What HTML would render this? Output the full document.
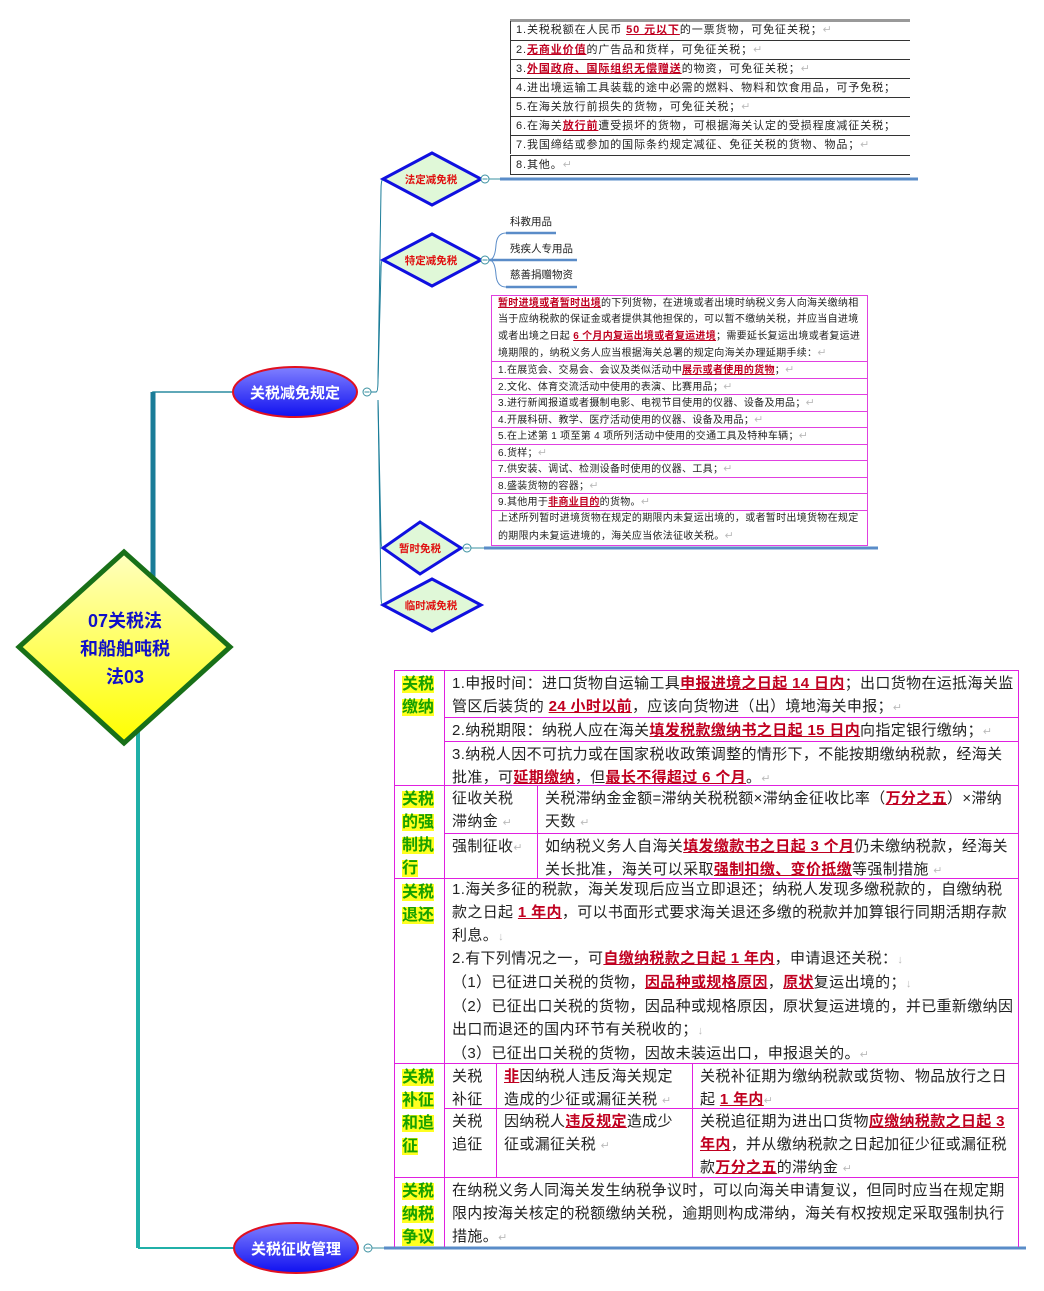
<!DOCTYPE html>
<html><head><meta charset="utf-8">
<style>
*{margin:0;padding:0;box-sizing:border-box}
body{width:1044px;height:1291px;background:#fff;position:relative;overflow:hidden;font-family:"Liberation Sans","Noto Sans CJK SC","WenQuanYi Zen Hei",sans-serif;color:#222}
.a{position:absolute}
.r{color:#c00020;font-weight:bold;text-decoration:underline}
.t1{position:absolute;left:510px;width:400px;height:19px;border-top:1px solid #333;font-size:11px;letter-spacing:0.9px;line-height:18px;padding-left:5px;white-space:nowrap;overflow:hidden;border-left:1px solid #333}
.t2{position:absolute;left:491px;width:377px;border:1px solid #e040e0;border-top:none;font-size:10px;letter-spacing:0.3px;line-height:16.5px;padding-left:6px;white-space:nowrap;overflow:hidden}
.c{position:absolute;border:1px solid #e020e0;font-size:15px;letter-spacing:0.35px;line-height:23px;padding:1px 4px 0 7px;overflow:hidden}
.lb{position:absolute;left:394px;width:51px;border:1px solid #e020e0;padding:2px 0 0 7px;font-size:16px;line-height:23px;font-weight:bold;color:#18a000}
.lb span{background:#ffff20}
.g{color:#bbb;font-size:11px}
</style></head><body>
<svg class="a" style="left:0;top:0" width="1044" height="1291">
<defs>
<linearGradient id="yg" x1="0" y1="0" x2="0" y2="1"><stop offset="0" stop-color="#ffffc0"/><stop offset="1" stop-color="#ffff00"/></linearGradient>
<linearGradient id="bg" x1="0" y1="0" x2="0" y2="1"><stop offset="0" stop-color="#8080ff"/><stop offset="1" stop-color="#1010f0"/></linearGradient>
</defs>
<path d="M153 575 V392 H232" fill="none" stroke="#2a8ca0" stroke-width="1.5"/>
<line x1="153" y1="392" x2="153" y2="580" stroke="#1a7c98" stroke-width="5"/>
<line x1="138" y1="720" x2="138" y2="1248" stroke="#20b0a8" stroke-width="4"/>
<line x1="138" y1="1248" x2="234" y2="1248" stroke="#20b0a8" stroke-width="2"/>
<polygon points="124,552 230,647 124,743 19,647" fill="url(#yg)" stroke="#187018" stroke-width="5"/>
<text x="125" y="627" text-anchor="middle" font-size="18" font-weight="bold" fill="#1010c8" font-family="Liberation Sans,Noto Sans CJK SC,sans-serif">07关税法</text>
<text x="125" y="655" text-anchor="middle" font-size="18" font-weight="bold" fill="#1010c8" font-family="Liberation Sans,Noto Sans CJK SC,sans-serif">和船舶吨税</text>
<text x="125" y="683" text-anchor="middle" font-size="18" font-weight="bold" fill="#1010c8" font-family="Liberation Sans,Noto Sans CJK SC,sans-serif">法03</text>
<ellipse cx="295" cy="392" rx="62" ry="25" fill="url(#bg)" stroke="#e01020" stroke-width="2"/>
<text x="295" y="398" text-anchor="middle" font-size="15" font-weight="bold" fill="#fff" font-family="Liberation Sans,Noto Sans CJK SC,sans-serif">关税减免规定</text>
<ellipse cx="296" cy="1248" rx="62" ry="25" fill="url(#bg)" stroke="#e01020" stroke-width="2"/>
<text x="296" y="1254" text-anchor="middle" font-size="15" font-weight="bold" fill="#fff" font-family="Liberation Sans,Noto Sans CJK SC,sans-serif">关税征收管理</text>
<circle cx="367" cy="392" r="4" fill="#fff" stroke="#3a90a0"/><line x1="364.5" y1="392" x2="369.5" y2="392" stroke="#3a90a0"/>
<circle cx="368" cy="1248" r="4" fill="#fff" stroke="#3a90a0"/><line x1="365.5" y1="1248" x2="370.5" y2="1248" stroke="#3a90a0"/>
<line x1="372" y1="1248" x2="384" y2="1248" stroke="#3a90a0"/>
<line x1="384" y1="1248" x2="1026" y2="1248" stroke="#5a8cc8" stroke-width="3"/>
<path d="M371 392 H376 Q378 392 378 380 L381 190 Q381 180 383 179" fill="none" stroke="#1a7c98" stroke-width="1"/>
<path d="M378 380 L381 270 Q381 260 383 260" fill="none" stroke="#1a7c98" stroke-width="1"/>
<path d="M378 400 L381 538 Q381 548 383 548" fill="none" stroke="#1a7c98" stroke-width="1"/>
<path d="M378 400 L381 595 Q381 605 383 605" fill="none" stroke="#1a7c98" stroke-width="1"/>
<g font-family="Liberation Sans,Noto Sans CJK SC,sans-serif" font-size="10.5" font-weight="bold" fill="#e01010" text-anchor="middle">
<polygon points="432,153 481,179 432,205 383,179" fill="#e0f8d8" stroke="#1010e0" stroke-width="3"/>
<text x="431" y="183">法定减免税</text>
<polygon points="432,234 481,260 432,286 383,260" fill="#e0f8d8" stroke="#1010e0" stroke-width="3"/>
<text x="431" y="264">特定减免税</text>
<polygon points="420,522 461,548 420,574 383,548" fill="#e0f8d8" stroke="#1010e0" stroke-width="3"/>
<text x="420" y="552">暂时免税</text>
<polygon points="432,579 481,605 432,631 383,605" fill="#e0f8d8" stroke="#1010e0" stroke-width="3"/>
<text x="431" y="609">临时减免税</text>
</g>
<circle cx="485" cy="179" r="4" fill="#fff" stroke="#3a90a0"/><line x1="482.5" y1="179" x2="487.5" y2="179" stroke="#3a90a0"/>
<line x1="489" y1="179" x2="500" y2="179" stroke="#3a90a0"/>
<line x1="500" y1="179" x2="918" y2="179" stroke="#5a8cc8" stroke-width="3"/>
<circle cx="485" cy="260" r="4" fill="#fff" stroke="#3a90a0"/><line x1="482.5" y1="260" x2="487.5" y2="260" stroke="#3a90a0"/>
<path d="M489 260 Q495 260 496 245 Q497 233 506 233 H556" fill="none" stroke="#5a8cc8" stroke-width="1"/>
<line x1="506" y1="233" x2="556" y2="233" stroke="#5a8cc8" stroke-width="2.5"/>
<line x1="489" y1="260" x2="577" y2="260" stroke="#5a8cc8" stroke-width="2.5"/>
<path d="M489 260 Q495 260 496 275 Q497 287 506 287" fill="none" stroke="#5a8cc8" stroke-width="1"/>
<line x1="506" y1="287" x2="577" y2="287" stroke="#5a8cc8" stroke-width="2.5"/>
<circle cx="467" cy="548" r="4" fill="#fff" stroke="#3a90a0"/><line x1="464.5" y1="548" x2="469.5" y2="548" stroke="#3a90a0"/>
<line x1="471" y1="548" x2="484" y2="548" stroke="#3a90a0"/>
<line x1="484" y1="548" x2="878" y2="548" stroke="#5a8cc8" stroke-width="3"/>
</svg>

<div class="a" style="left:510px;top:222px;font-size:10.5px;line-height:12px;transform:translateY(-6px)">科教用品</div>
<div class="a" style="left:510px;top:249px;font-size:10.5px;line-height:12px;transform:translateY(-6px)">残疾人专用品</div>
<div class="a" style="left:510px;top:275px;font-size:10.5px;line-height:12px;transform:translateY(-6px)">慈善捐赠物资</div>

<div class="a" style="left:510px;top:19px;width:400px;height:3px;background:#999"></div>
<div class="t1" style="top:21px;border-top:none">1.关税税额在人民币 <span class="r">50 元以下</span>的一票货物，可免征关税；<span class="g">↵</span></div>
<div class="t1" style="top:40px">2.<span class="r">无商业价值</span>的广告品和货样，可免征关税；<span class="g">↵</span></div>
<div class="t1" style="top:59px">3.<span class="r">外国政府、国际组织无偿赠送</span>的物资，可免征关税；<span class="g">↵</span></div>
<div class="t1" style="top:78px">4.进出境运输工具装载的途中必需的燃料、物料和饮食用品，可予免税；</div>
<div class="t1" style="top:97px">5.在海关放行前损失的货物，可免征关税；<span class="g">↵</span></div>
<div class="t1" style="top:116px">6.在海关<span class="r">放行前</span>遭受损坏的货物，可根据海关认定的受损程度减征关税；</div>
<div class="t1" style="top:135px">7.我国缔结或参加的国际条约规定减征、免征关税的货物、物品；<span class="g">↵</span></div>
<div class="t1" style="top:155px;height:20px;border-bottom:1px solid #333">8.其他。<span class="g">↵</span></div>

<div class="t2" style="top:295px;height:67px;border-top:1px solid #e040e0;white-space:normal;line-height:16.3px;padding-right:3px">
<span class="r">暂时进境或者暂时出境</span>的下列货物，在进境或者出境时纳税义务人向海关缴纳相当于应纳税款的保证金或者提供其他担保的，可以暂不缴纳关税，并应当自进境或者出境之日起 <span class="r">6 个月内复运出境或者复运进境</span>；需要延长复运出境或者复运进境期限的，纳税义务人应当根据海关总署的规定向海关办理延期手续：<span class="g">↵</span></div>
<div class="t2" style="top:362px;height:17px">1.在展览会、交易会、会议及类似活动中<span class="r">展示或者使用的货物</span>；<span class="g">↵</span></div>
<div class="t2" style="top:379px;height:16px">2.文化、体育交流活动中使用的表演、比赛用品；<span class="g">↵</span></div>
<div class="t2" style="top:395px;height:17px">3.进行新闻报道或者摄制电影、电视节目使用的仪器、设备及用品；<span class="g">↵</span></div>
<div class="t2" style="top:412px;height:16px">4.开展科研、教学、医疗活动使用的仪器、设备及用品；<span class="g">↵</span></div>
<div class="t2" style="top:428px;height:17px">5.在上述第 1 项至第 4 项所列活动中使用的交通工具及特种车辆；<span class="g">↵</span></div>
<div class="t2" style="top:445px;height:16px">6.货样；<span class="g">↵</span></div>
<div class="t2" style="top:461px;height:17px">7.供安装、调试、检测设备时使用的仪器、工具；<span class="g">↵</span></div>
<div class="t2" style="top:478px;height:16px">8.盛装货物的容器；<span class="g">↵</span></div>
<div class="t2" style="top:494px;height:17px">9.其他用于<span class="r">非商业目的</span>的货物。<span class="g">↵</span></div>
<div class="t2" style="top:511px;height:35px;white-space:normal;padding-right:3px">上述所列暂时进境货物在规定的期限内未复运出境的，或者暂时出境货物在规定的期限内未复运进境的，海关应当依法征收关税。<span class="g">↵</span></div>

<div class="lb" style="top:670px;height:116px"><span>关税<br>缴纳</span></div>
<div class="c" style="left:444px;top:670px;width:575px;height:48px">1.申报时间：进口货物自运输工具<span class="r">申报进境之日起 14 日内</span>；出口货物在运抵海关监管区后装货的 <span class="r">24 小时以前</span>，应该向货物进（出）境地海关申报；<span class="g">↵</span></div>
<div class="c" style="left:444px;top:717px;width:575px;height:25px">2.纳税期限：纳税人应在海关<span class="r">填发税款缴纳书之日起 15 日内</span>向指定银行缴纳；<span class="g">↵</span></div>
<div class="c" style="left:444px;top:741px;width:575px;height:45px">3.纳税人因不可抗力或在国家税收政策调整的情形下，不能按期缴纳税款，经海关批准，可<span class="r">延期缴纳</span>，但<span class="r">最长不得超过 6 个月</span>。<span class="g">↵</span></div>

<div class="lb" style="top:785px;height:94px"><span>关税<br>的强<br>制执<br>行</span></div>
<div class="c" style="left:444px;top:785px;width:94px;height:49px;padding-right:12px">征收关税滞纳金 <span class="g">↵</span></div>
<div class="c" style="left:537px;top:785px;width:482px;height:49px">关税滞纳金金额=滞纳关税税额×滞纳金征收比率（<span class="r">万分之五</span>）×滞纳天数 <span class="g">↵</span></div>
<div class="c" style="left:444px;top:833px;width:94px;height:46px">强制征收<span class="g">↵</span></div>
<div class="c" style="left:537px;top:833px;width:482px;height:46px">如纳税义务人自海关<span class="r">填发缴款书之日起 3 个月</span>仍未缴纳税款，经海关关长批准，海关可以采取<span class="r">强制扣缴、变价抵缴</span>等强制措施 <span class="g">↵</span></div>

<div class="lb" style="top:878px;height:186px"><span>关税<br>退还</span></div>
<div class="c" style="left:444px;top:878px;width:575px;height:186px;line-height:22.8px;padding-top:0">1.海关多征的税款，海关发现后应当立即退还；纳税人发现多缴税款的，自缴纳税款之日起 <span class="r">1 年内</span>，可以书面形式要求海关退还多缴的税款并加算银行同期活期存款利息。<span class="g">↓</span><br>2.有下列情况之一，可<span class="r">自缴纳税款之日起 1 年内</span>，申请退还关税：<span class="g">↓</span><br>（1）已征进口关税的货物，<span class="r">因品种或规格原因</span>，<span class="r">原状</span>复运出境的；<span class="g">↓</span><br>（2）已征出口关税的货物，因品种或规格原因，原状复运进境的，并已重新缴纳因出口而退还的国内环节有关税收的；<span class="g">↓</span><br>（3）已征出口关税的货物，因故未装运出口，申报退关的。<span class="g">↵</span></div>

<div class="lb" style="top:1063px;height:115px"><span>关税<br>补征<br>和追<br>征</span></div>
<div class="c" style="left:444px;top:1063px;width:53px;height:46px">关税补征</div>
<div class="c" style="left:496px;top:1063px;width:197px;height:46px"><span class="r">非</span>因纳税人违反海关规定造成的少征或漏征关税 <span class="g">↵</span></div>
<div class="c" style="left:692px;top:1063px;width:327px;height:46px">关税补征期为缴纳税款或货物、物品放行之日起 <span class="r">1 年内</span><span class="g">↵</span></div>
<div class="c" style="left:444px;top:1108px;width:53px;height:70px">关税追征</div>
<div class="c" style="left:496px;top:1108px;width:197px;height:70px">因纳税人<span class="r">违反规定</span>造成少征或漏征关税 <span class="g">↵</span></div>
<div class="c" style="left:692px;top:1108px;width:327px;height:70px">关税追征期为进出口货物<span class="r">应缴纳税款之日起 3 年内</span>，并从缴纳税款之日起加征少征或漏征税款<span class="r">万分之五</span>的滞纳金 <span class="g">↵</span></div>

<div class="lb" style="top:1177px;height:70px;border-bottom:none"><span>关税<br>纳税<br>争议</span></div>
<div class="c" style="left:444px;top:1177px;width:575px;height:70px;border-bottom:none">在纳税义务人同海关发生纳税争议时，可以向海关申请复议，但同时应当在规定期限内按海关核定的税额缴纳关税，逾期则构成滞纳，海关有权按规定采取强制执行措施。<span class="g">↵</span></div>
</body></html>
